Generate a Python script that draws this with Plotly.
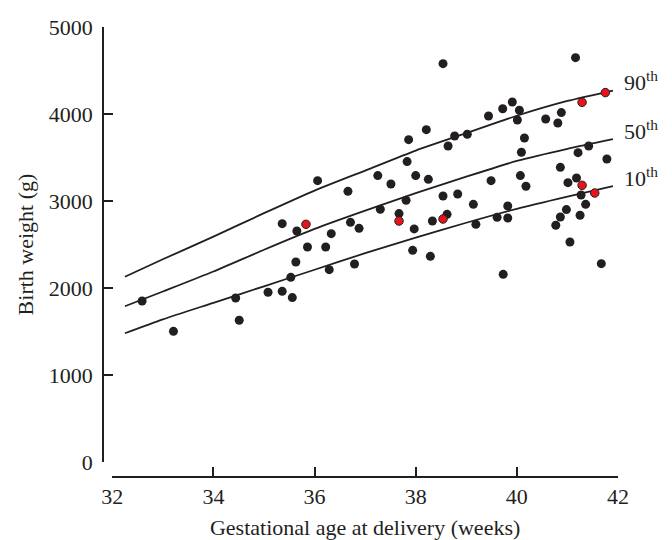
import plotly.graph_objects as go

# Birth weight against gestational age at delivery
ga_weeks = [32.59, 33.21, 34.44, 34.51, 35.08, 35.36, 35.36, 35.53, 35.56, 35.63,
            35.65, 35.86, 36.06, 36.22, 36.29, 36.33, 36.66, 36.71, 36.79, 36.88,
            37.25, 37.30, 37.51, 37.67, 37.81, 37.83, 37.86, 37.94, 37.97, 38.00,
            38.21, 38.25, 38.29, 38.33, 38.54, 38.54, 38.62, 38.64, 38.77, 38.83,
            39.02, 39.14, 39.19, 39.44, 39.49, 39.61, 39.72, 39.73, 39.82, 39.82,
            39.91, 40.01, 40.05, 40.07, 40.09, 40.15, 40.18, 40.57, 40.77, 40.81,
            40.86, 40.86, 40.88, 40.98, 41.01, 41.05, 41.16, 41.18, 41.21, 41.25,
            41.27, 41.36, 41.42, 41.67, 41.78]
birth_weight = [1851, 1502, 1885, 1629, 1951, 1962, 2740, 2123, 1890, 2299,
                2655, 2471, 3234, 2471, 2211, 2625, 3111, 2755, 2276, 2686,
                3292, 2905, 3196, 2855, 3008, 3453, 3705, 2433, 2679, 3292,
                3820, 3249, 2364, 2770, 4579, 3057, 2847, 3632, 3747, 3080,
                3767, 2962, 2732, 3977, 3234, 2813, 4060, 2157, 2943, 2805,
                4138, 3931, 4043, 3292, 3560, 3724, 3169, 3943, 2721, 3897,
                2816, 3387, 4016, 2901, 3211, 2529, 4648, 3264, 3556, 2836,
                3069, 2962, 3632, 2280, 3483]

# Highlighted cases
hl_weeks = [35.83, 37.67, 38.54, 41.29, 41.75, 41.29, 41.54]
hl_weight = [2732, 2770, 2793, 4134, 4246, 3180, 3092]

# Reference centile curves
curve_weeks = [32.25, 33, 34, 35, 36, 37, 38, 39, 40, 41, 41.9]
p90 = [2130, 2330, 2590, 2860, 3120, 3350, 3580, 3780, 3980, 4150, 4270]
p50 = [1790, 1960, 2190, 2440, 2680, 2890, 3090, 3280, 3460, 3600, 3710]
p10 = [1480, 1640, 1830, 2020, 2210, 2400, 2580, 2750, 2910, 3050, 3170]
centile_names = ["90", "50", "10"]

x_ticks = [32, 34, 36, 38, 40, 42]
y_ticks = [0, 1000, 2000, 3000, 4000, 5000]

INK = "#231f20"
FONT = "Liberation Serif, Times New Roman, serif"
Y_MAX = 5000
Y_DOMAIN = [0.0333, 1]

fig = go.Figure()
curves = (p90, p50, p10)
for vals in curves:
    fig.add_trace(go.Scatter(x=curve_weeks, y=vals, mode="lines",
                             line=dict(color=INK, width=1.8, shape="spline", smoothing=0.6),
                             hoverinfo="skip", showlegend=False))

fig.add_trace(go.Scatter(x=ga_weeks, y=birth_weight, mode="markers",
                         marker=dict(size=9, color=INK, line=dict(width=0)),
                         showlegend=False))
fig.add_trace(go.Scatter(x=hl_weeks, y=hl_weight, mode="markers",
                         marker=dict(size=8.5, color="#e8141c", line=dict(width=1, color=INK)),
                         showlegend=False))

# centile labels sit just right of the plotting area, a little above each curve end
for name, vals in zip(centile_names, curves):
    y_val = vals[-1] + 110
    y_paper = Y_DOMAIN[0] + (Y_DOMAIN[1] - Y_DOMAIN[0]) * y_val / Y_MAX
    fig.add_annotation(x=1.007, y=y_paper,
                       xref="paper", yref="paper", xanchor="left", yanchor="middle",
                       text=f"{name}<sup>th</sup>", showarrow=False,
                       font=dict(family=FONT, size=22, color=INK))

fig.update_layout(
    width=672, height=540,
    margin=dict(l=103, r=54, t=27, b=63),
    paper_bgcolor="white", plot_bgcolor="white",
    font=dict(family=FONT, size=22, color=INK),
    xaxis=dict(range=[32, 42], domain=[0.018, 1], anchor="free", position=0,
               tickvals=x_ticks, ticks="inside", ticklen=9, tickwidth=1.5, tickcolor=INK,
               showline=True, linewidth=1.5, linecolor=INK, showgrid=False, zeroline=False,
               ticklabelstandoff=0,
               title=dict(text="Gestational age at delivery (weeks)", standoff=16,
                          font=dict(family=FONT, size=22, color=INK)),
               automargin=False),
    yaxis=dict(range=[0, Y_MAX], domain=Y_DOMAIN, anchor="free", position=0,
               tickvals=y_ticks, ticks="inside", ticklen=9, tickwidth=1.5, tickcolor=INK,
               showline=True, linewidth=1.5, linecolor=INK, showgrid=False, zeroline=False,
               ticklabelstandoff=5,
               title=dict(text="Birth weight (g)", standoff=8,
                          font=dict(family=FONT, size=22, color=INK)),
               automargin=False),
)

fig.write_html("out.html")
